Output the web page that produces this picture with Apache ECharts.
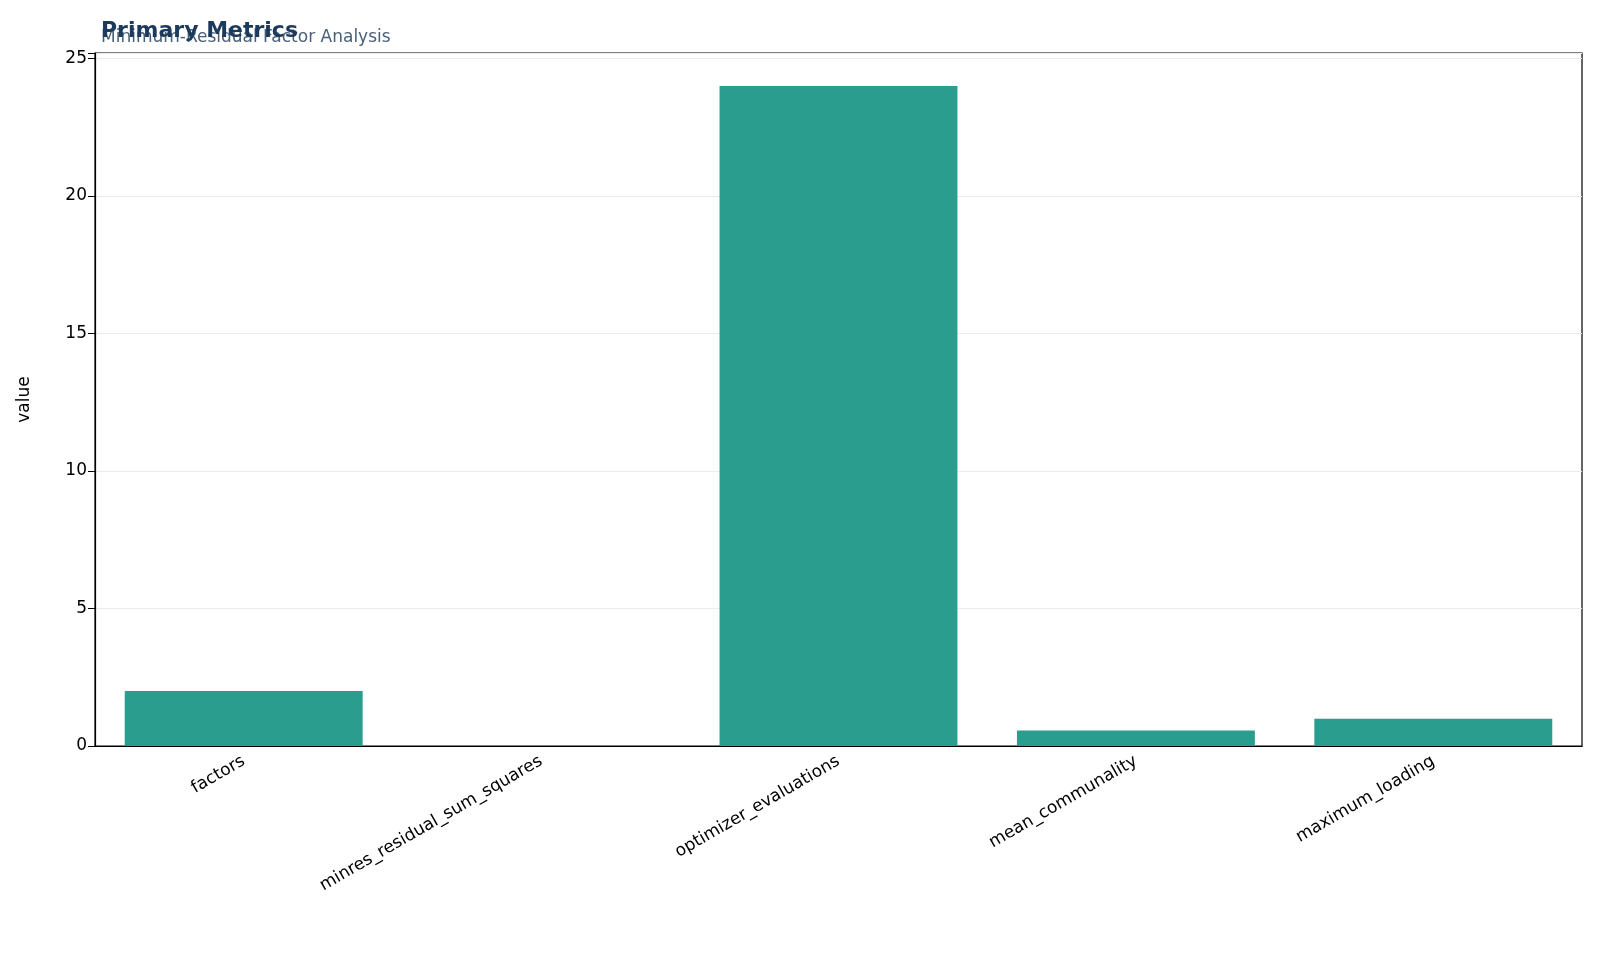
<!DOCTYPE html>
<html><head><meta charset="utf-8">
<script src="https://cdn.jsdelivr.net/npm/echarts@6/dist/echarts.min.js"></script>
<style>html,body{margin:0;padding:0;background:#fff}#c{width:1600px;height:979px}</style>
</head><body><div id="c"></div>
<script>
const categories = ["factors","minres_residual_sum_squares","optimizer_evaluations","mean_communality","maximum_loading"];
const values = [2, 0.002, 24, 0.56, 0.99];
const yTicks = [0,5,10,15,20,25];
const chart = echarts.init(document.getElementById('c'));
const font = "DejaVu Sans";
chart.setOption({
  animation:false,
  title:[
    {text:"Minimum-Residual Factor Analysis",left:96,top:24,textStyle:{fontFamily:font,fontSize:17,fontWeight:'normal',color:'#4a6078'}},
    {text:"Primary Metrics",left:96,top:15,textStyle:{fontFamily:font,fontSize:22,fontWeight:'bold',color:'#1b3a5c'}}
  ],
  grid:{left:95,right:18,top:53,bottom:233,containLabel:false,show:true,borderColor:'#000',borderWidth:1.2},
  xAxis:{type:'category',data:categories,
    axisLine:{lineStyle:{color:'#000',width:1.2}},
    axisTick:{alignWithLabel:true,length:7,lineStyle:{color:'#000'}},
    axisLabel:{rotate:30,interval:0,fontFamily:font,fontSize:17,color:'#000',margin:14}},
  yAxis:{type:'value',min:0,max:25.2,interval:5,name:'value',nameLocation:'middle',nameGap:62,
    nameTextStyle:{fontFamily:font,fontSize:17,color:'#000'},
    axisLine:{show:true,lineStyle:{color:'#000',width:1.2}},
    axisTick:{show:true,length:7,lineStyle:{color:'#000'}},
    axisLabel:{fontFamily:font,fontSize:17,color:'#000',formatter:v=>yTicks.includes(v)?String(v):''},
    splitLine:{lineStyle:{color:'#ebebeb',width:1.2}}},
  series:[{type:'bar',data:values,barCategoryGap:'20%',itemStyle:{color:'#2a9d8f'}}]
});
</script></body></html>
